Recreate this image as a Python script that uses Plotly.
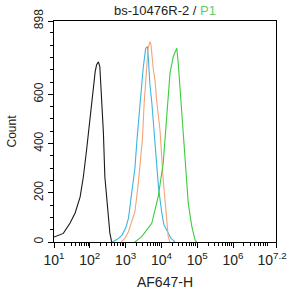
import plotly.graph_objects as go

# log10 intensity positions and counts
black_log = [1.00, 1.26, 1.45, 1.59, 1.73, 1.82, 1.91, 2.01, 2.07, 2.15, 2.19, 2.24, 2.28, 2.33, 2.38, 2.42, 2.47, 2.52, 2.56, 2.61]
black_cnt = [20, 35, 77, 118, 183, 265, 374, 509, 590, 692, 720, 732, 713, 577, 443, 265, 171, 89, 37, 0]

blue_log = [2.62, 2.76, 2.90, 3.01, 3.08, 3.17, 3.26, 3.32, 3.40, 3.49, 3.56, 3.61, 3.63, 3.68, 3.73, 3.77, 3.82, 3.87, 3.92, 4.01, 4.07, 4.19, 4.27, 4.38]
blue_cnt = [0, 10, 28, 60, 97, 191, 301, 420, 570, 706, 787, 794, 760, 638, 570, 503, 415, 321, 220, 118, 70, 37, 15, 0]

orange_log = [2.87, 2.98, 3.08, 3.15, 3.26, 3.35, 3.43, 3.47, 3.52, 3.59, 3.63, 3.68, 3.71, 3.77, 3.82, 3.87, 3.96, 4.05, 4.13, 4.19, 4.24]
orange_cnt = [0, 15, 42, 70, 123, 232, 354, 420, 570, 706, 787, 814, 800, 706, 658, 570, 455, 252, 103, 22, 0]

green_log = [3.26, 3.45, 3.73, 3.91, 4.05, 4.15, 4.24, 4.33, 4.43, 4.47, 4.57, 4.66, 4.75, 4.85, 4.94, 4.99]
green_cnt = [0, 22, 76, 184, 320, 523, 686, 753, 787, 726, 523, 320, 157, 62, 8, 0]

x_tick_exp = [1, 2, 3, 4, 5, 6, 7.2]
x_tick_text = ["10<sup>1</sup>", "10<sup>2</sup>", "10<sup>3</sup>", "10<sup>4</sup>",
               "10<sup>5</sup>", "10<sup>6</sup>", "10<sup>7.2</sup>&nbsp;&nbsp;"]
y_tick_vals = [0, 200, 400, 600, 898]
y_tick_text = ["0", "200", "400", "600", "898"]

series = [
    (black_log, black_cnt, "#1a1a1a"),
    (blue_log, blue_cnt, "#3cb6e0"),
    (orange_log, orange_cnt, "#f2a478"),
    (green_log, green_cnt, "#3ccc3c"),
]

fig = go.Figure()
for lg, cnt, col in series:
    fig.add_trace(go.Scatter(x=[10 ** v for v in lg], y=cnt, mode="lines",
                             line=dict(color=col, width=1.1), showlegend=False,
                             hoverinfo="skip"))

minor_x = [m * 10 ** k for k in range(1, 8) for m in range(2, 10) if m * 10 ** k < 10 ** 7.2]

fig.update_layout(
    width=290, height=296,
    margin=dict(l=54, r=14, t=21, b=54),
    paper_bgcolor="white", plot_bgcolor="white",
    font=dict(family="Liberation Sans, Arial, sans-serif", color="#222222", size=12),
    title=dict(text='bs-10476R-2 / <span style="color:#66cc66">P1</span>',
               x=0.569, xanchor="center", y=0.965, yanchor="middle",
               font=dict(size=13, color="#222222")),
    xaxis=dict(type="log", range=[1, 7.2], showgrid=False, zeroline=False, automargin=False,
               showline=True, linecolor="black", linewidth=1.2, mirror=True,
               ticks="outside", ticklen=5, tickcolor="black",
               tickmode="array", tickvals=[10 ** e for e in x_tick_exp], ticktext=x_tick_text,
               tickfont=dict(size=14), ticklabeloverflow="allow",
               minor=dict(ticks="outside", ticklen=3, tickcolor="black",
                          tickmode="array", tickvals=minor_x, showgrid=False),
               title=dict(text="AF647-H", font=dict(size=14), standoff=10)),
    yaxis=dict(range=[0, 898], showgrid=False, zeroline=False, automargin=False,
               showline=True, linecolor="black", linewidth=1.2, mirror=True,
               ticks="outside", ticklen=5, tickcolor="black",
               tickmode="array", tickvals=y_tick_vals, ticktext=y_tick_text,
               tickangle=-90, tickfont=dict(size=12),
               minor=dict(ticks="outside", ticklen=3, tickcolor="black", dtick=50, showgrid=False),
               title=dict(text="Count", font=dict(size=12), standoff=12)),
)

fig.write_html("out.html")
